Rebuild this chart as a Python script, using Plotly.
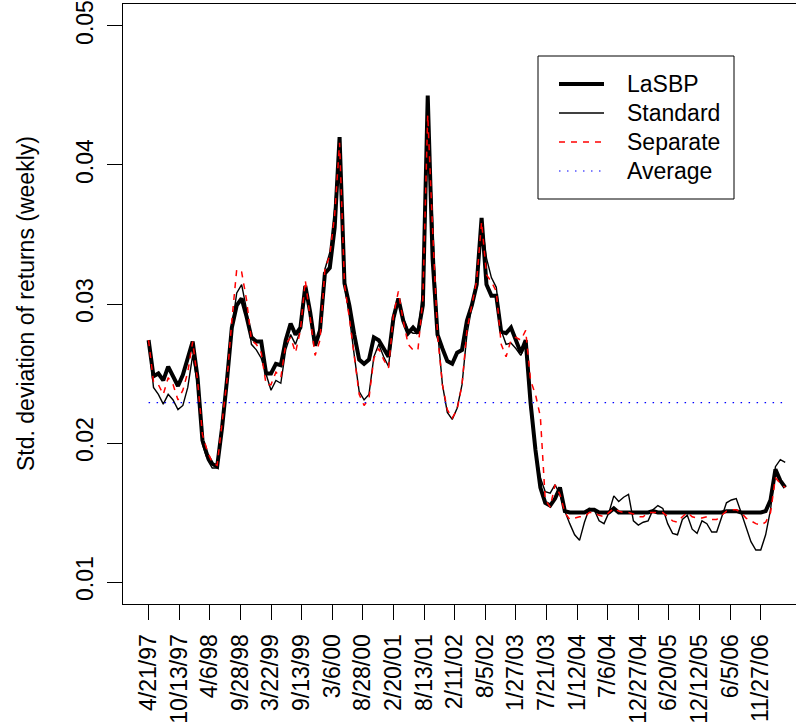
import plotly.graph_objects as go

# Weekly index (1 = week of 4/21/97), sampled every 4 weeks
weeks = list(range(1, 522, 4))

lasbp = [
    0.0274, 0.0248, 0.0250, 0.0245, 0.0255, 0.0248, 0.0241, 0.0249, 0.0260, 0.0273,
    0.0247, 0.0202, 0.0191, 0.0185, 0.0183, 0.0211, 0.0245, 0.0283, 0.0299, 0.0304,
    0.0291, 0.0276, 0.0273, 0.0273, 0.0250, 0.0250, 0.0257, 0.0256, 0.0274, 0.0286,
    0.0278, 0.0283, 0.0313, 0.0294, 0.0270, 0.0281, 0.0322, 0.0326, 0.0355, 0.0420,
    0.0315, 0.0299, 0.0278, 0.0260, 0.0257, 0.0260, 0.0276, 0.0274, 0.0268, 0.0262,
    0.0290, 0.0304, 0.0288, 0.0279, 0.0283, 0.0279, 0.0299, 0.0450, 0.0332, 0.0278,
    0.0268, 0.0259, 0.0257, 0.0265, 0.0267, 0.0288, 0.0299, 0.0314, 0.0362, 0.0314,
    0.0306, 0.0306, 0.0280, 0.0279, 0.0283, 0.0274, 0.0265, 0.0274, 0.0229, 0.0195,
    0.0168, 0.0157, 0.0155, 0.0160, 0.0168, 0.0151, 0.0150, 0.0150, 0.0150, 0.0150,
    0.0152, 0.0152, 0.0150, 0.0150, 0.0150, 0.0153, 0.0150, 0.0150, 0.0150, 0.0150,
    0.0150, 0.0150, 0.0150, 0.0151, 0.0150, 0.0150, 0.0150, 0.0150, 0.0150, 0.0150,
    0.0150, 0.0150, 0.0150, 0.0150, 0.0150, 0.0150, 0.0150, 0.0150, 0.0151, 0.0151,
    0.0151, 0.0150, 0.0150, 0.0150, 0.0150, 0.0150, 0.0151, 0.0159, 0.0181, 0.0173,
    0.0168,
]

standard = [
    0.0274, 0.0240, 0.0235, 0.0228, 0.0235, 0.0231, 0.0224, 0.0227, 0.0240, 0.0263,
    0.0242, 0.0199, 0.0188, 0.0182, 0.0182, 0.0213, 0.0247, 0.0283, 0.0308, 0.0314,
    0.0296, 0.0271, 0.0267, 0.0261, 0.0249, 0.0238, 0.0245, 0.0243, 0.0267, 0.0278,
    0.0271, 0.0281, 0.0312, 0.0296, 0.0270, 0.0283, 0.0325, 0.0337, 0.0369, 0.0415,
    0.0314, 0.0291, 0.0263, 0.0237, 0.0231, 0.0235, 0.0262, 0.0271, 0.0262, 0.0255,
    0.0288, 0.0303, 0.0290, 0.0281, 0.0279, 0.0279, 0.0310, 0.0443, 0.0360, 0.0281,
    0.0242, 0.0222, 0.0217, 0.0225, 0.0242, 0.0278, 0.0298, 0.0317, 0.0360, 0.0333,
    0.0319, 0.0312, 0.0281, 0.0271, 0.0272, 0.0268, 0.0263, 0.0271, 0.0224, 0.0194,
    0.0175, 0.0165, 0.0164, 0.0170, 0.0163, 0.0151, 0.0142, 0.0134, 0.0130, 0.0143,
    0.0153, 0.0152, 0.0144, 0.0142, 0.0150, 0.0162, 0.0158, 0.0161, 0.0163, 0.0144,
    0.0141, 0.0143, 0.0144, 0.0152, 0.0155, 0.0153, 0.0142, 0.0135, 0.0134, 0.0145,
    0.0148, 0.0138, 0.0135, 0.0144, 0.0142, 0.0136, 0.0136, 0.0146, 0.0157, 0.0159,
    0.0160, 0.0150, 0.0139, 0.0129, 0.0123, 0.0123, 0.0134, 0.0152, 0.0183, 0.0188,
    0.0186,
]

separate = [
    0.0274, 0.0244, 0.0242, 0.0235, 0.0247, 0.0242, 0.0231, 0.0238, 0.0251, 0.0273,
    0.0245, 0.0206, 0.0194, 0.0186, 0.0184, 0.0213, 0.0245, 0.0288, 0.0325, 0.0323,
    0.0303, 0.0274, 0.0271, 0.0265, 0.0242, 0.0242, 0.0251, 0.0247, 0.0271, 0.0276,
    0.0265, 0.0281, 0.0317, 0.0290, 0.0263, 0.0274, 0.0325, 0.0335, 0.0364, 0.0416,
    0.0314, 0.0290, 0.0261, 0.0235, 0.0227, 0.0232, 0.0261, 0.0268, 0.0260, 0.0254,
    0.0292, 0.0309, 0.0288, 0.0271, 0.0267, 0.0267, 0.0303, 0.0436, 0.0353, 0.0278,
    0.0242, 0.0224, 0.0218, 0.0224, 0.0242, 0.0281, 0.0299, 0.0317, 0.0359, 0.0321,
    0.0316, 0.0309, 0.0271, 0.0262, 0.0274, 0.0276, 0.0274, 0.0281, 0.0245, 0.0235,
    0.0219, 0.0159, 0.0154, 0.0170, 0.0163, 0.0150, 0.0145, 0.0146, 0.0147, 0.0147,
    0.0150, 0.0150, 0.0148, 0.0147, 0.0150, 0.0153, 0.0151, 0.0150, 0.0150, 0.0149,
    0.0147, 0.0147, 0.0150, 0.0150, 0.0150, 0.0150, 0.0147, 0.0144, 0.0143, 0.0147,
    0.0150, 0.0147, 0.0146, 0.0146, 0.0147, 0.0145, 0.0145, 0.0148, 0.0151, 0.0152,
    0.0152, 0.0150, 0.0146, 0.0144, 0.0142, 0.0141, 0.0143, 0.0150, 0.0175, 0.0171,
    0.0168,
]

average_level = 0.0229

tick_weeks = list(range(1, 502, 25))
tick_labels = [
    "4/21/97", "10/13/97", "4/6/98", "9/28/98", "3/22/99", "9/13/99", "3/6/00",
    "8/28/00", "2/20/01", "8/13/01", "2/11/02", "8/5/02", "1/27/03", "7/21/03",
    "1/12/04", "7/6/04", "12/27/04", "6/20/05", "12/12/05", "6/5/06", "11/27/06",
]
y_ticks = [0.01, 0.02, 0.03, 0.04, 0.05]
y_tick_labels = ["0.01", "0.02", "0.03", "0.04", "0.05"]

FONT = "Liberation Sans, Arial, Helvetica, sans-serif"
FS = 23

series_styles = [
    ("LaSBP", lasbp, dict(color="black", width=4)),
    ("Standard", standard, dict(color="black", width=1.4)),
    ("Separate", separate, dict(color="red", width=1.5, dash="6px,6px")),
]

fig = go.Figure()
for name, vals, style in series_styles:
    fig.add_trace(go.Scatter(x=weeks, y=vals, mode="lines", name=name,
                             line=style, showlegend=False, hoverinfo="skip"))
avg_style = dict(color="#0000ff", width=1.2, dash="1.5px,6.5px")
fig.add_trace(go.Scatter(x=[weeks[0], weeks[-1]], y=[average_level, average_level],
                         mode="lines", name="Average", line=avg_style,
                         showlegend=False, hoverinfo="skip"))

# Boxed legend in the upper right of the panel
legend_rows = [("LaSBP", dict(color="black", width=4)),
               ("Standard", dict(color="black", width=1.4)),
               ("Separate", dict(color="red", width=1.5, dash="6px,6px")),
               ("Average", avg_style)]
PL, PW, PT, PH = 123, 673, 4, 600


def px(xp):
    return (xp - PL) / PW


def py(yp):
    return 1 - (yp - PT) / PH


shapes = [dict(type="rect", xref="paper", yref="paper",
               x0=px(538), x1=px(734), y0=py(199), y1=py(56),
               line=dict(color="black", width=1), fillcolor="white", layer="above")]
annotations = []
for i, (label, style) in enumerate(legend_rows):
    row_y = py(84 + 29 * i)
    shapes.append(dict(type="line", xref="paper", yref="paper",
                       x0=px(559), x1=px(604), y0=row_y, y1=row_y,
                       line=style, layer="above"))
    annotations.append(dict(text=label, xref="paper", yref="paper",
                            x=px(625), y=row_y, xanchor="left", yanchor="middle",
                            showarrow=False, font=dict(family=FONT, size=FS, color="black")))

annotations.append(dict(text="Std. deviation of returns (weekly)", xref="paper", yref="paper",
                        x=px(26), y=0.5, textangle=-90, xanchor="center", yanchor="middle",
                        showarrow=False, font=dict(family=FONT, size=FS, color="black")))

fig.update_layout(
    width=796, height=727,
    margin=dict(l=PL, r=0, t=PT, b=123, pad=0),
    paper_bgcolor="white", plot_bgcolor="white",
    font=dict(family=FONT, size=FS, color="black"),
    shapes=shapes, annotations=annotations,
    showlegend=False,
)
fig.update_xaxes(
    range=[-19.9, 529.8], tickmode="array", tickvals=tick_weeks, ticktext=tick_labels,
    tickangle=-90, ticks="outside", ticklen=15, tickwidth=1, tickcolor="black",
    ticklabelstandoff=5,
    showline=True, linecolor="black", linewidth=1, mirror=True,
    showgrid=False, zeroline=False, tickfont=dict(family=FONT, size=FS, color="black"),
)
fig.update_yaxes(
    range=[0.00842, 0.05158], tickmode="array", tickvals=y_ticks, ticktext=y_tick_labels,
    tickangle=-90, ticks="outside", ticklen=15, tickwidth=1, tickcolor="black",
    ticklabelstandoff=5,
    showline=True, linecolor="black", linewidth=1, mirror=False,
    showgrid=False, zeroline=False, tickfont=dict(family=FONT, size=FS, color="black"),
)

fig.write_html("out.html")
